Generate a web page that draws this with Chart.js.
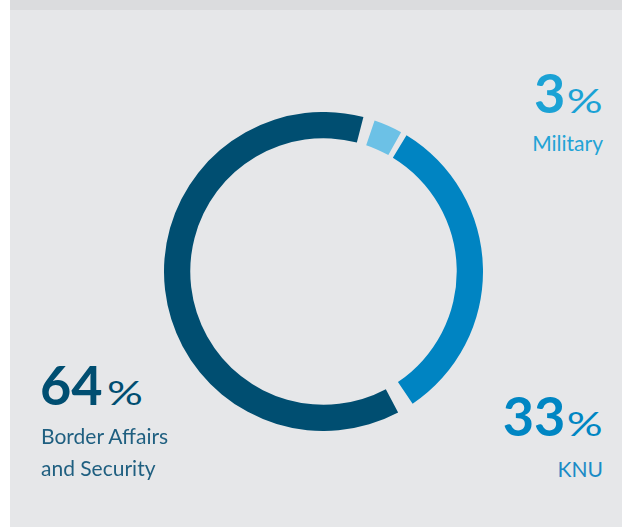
<!DOCTYPE html>
<html>
<head>
<meta charset="utf-8">
<script src="https://cdn.jsdelivr.net/npm/chart.js@4.4.0/dist/chart.umd.min.js"></script>
<style>
  html, body { margin: 0; padding: 0; background: #ffffff; }
  body { width: 622px; height: 527px; position: relative; overflow: hidden; font-family: Lato, "Open Sans", sans-serif; }
  #panel { position: absolute; left: 10px; top: 0; width: 612px; height: 527px; background: #e6e7e9; }
  #strip { position: absolute; left: 10px; top: 0; width: 612px; height: 10px; background: #dbdcde; }
  #wrap { position: absolute; left: 164px; top: 111.5px; width: 319px; height: 319px; }
  .lab { position: absolute; white-space: nowrap; }
  .num { font-size: 54px; line-height: 54px; font-weight: 700; }
  .num span { display: inline-block; font-size: 32px; font-weight: 400; transform: scaleX(1.4); }
  .num.right span { transform-origin: right bottom; margin-left: 12px; }
  .num.left span { transform-origin: left bottom; margin-left: 4px; }
  .txt { font-size: 21px; line-height: 32px; font-weight: 400; }
</style>
</head>
<body>
<div id="panel"></div>
<div id="strip"></div>
<div id="wrap"><canvas id="c"></canvas></div>
<div id="labels"></div>
<script>
const categories = ['Military', 'KNU', 'Border Affairs and Security'];
const values = [3, 33, 64];
const labelLines = [['Military'], ['KNU'], ['Border Affairs', 'and Security']];
const sliceColors = ['#6cc1e6', '#0084c2', '#004e71'];
const numberColors = ['#1ba2d5', '#0086c3', '#004e71'];
const textColors = ['#22a3d6', '#1a8bc6', '#1f5f80'];

new Chart(document.getElementById('c'), {
  type: 'doughnut',
  data: {
    labels: categories,
    datasets: [{
      data: values,
      backgroundColor: sliceColors,
      borderWidth: 0,
      spacing: 10,
      hoverOffset: 0
    }]
  },
  options: {
    responsive: true,
    maintainAspectRatio: false,
    animation: false,
    rotation: 18.5,
    cutout: '83%',
    layout: { padding: 0 },
    plugins: { legend: { display: false }, tooltip: { enabled: false } },
    events: []
  }
});

const placements = [
  { side: 'right', x: 19, numTop: 66.4, txtTop: 126.6 },
  { side: 'right', x: 19, numTop: 388.8, txtTop: 452.6 },
  { side: 'left', x: 40, numTop: 358.1, txtTop: 419.9 }
];
const host = document.getElementById('labels');
categories.forEach((cat, i) => {
  const p = placements[i];
  const n = document.createElement('div');
  n.className = 'lab num ' + p.side;
  n.style.color = numberColors[i];
  n.style.top = p.numTop + 'px';
  n.style[p.side] = p.x + 'px';
  n.innerHTML = values[i] + '<span>%</span>';
  host.appendChild(n);
  const t = document.createElement('div');
  t.className = 'lab txt';
  t.style.color = textColors[i];
  t.style.top = p.txtTop + 'px';
  t.style[p.side] = (p.side === 'left' ? p.x + 1 : p.x) + 'px';
  t.style.textAlign = p.side;
  t.innerHTML = labelLines[i].join('<br>');
  host.appendChild(t);
});
</script>
</body>
</html>
